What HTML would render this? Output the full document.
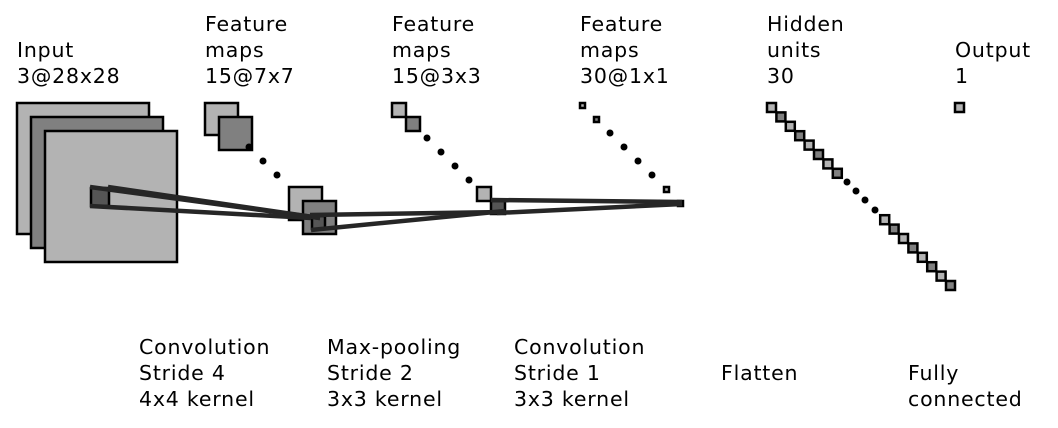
<!DOCTYPE html>
<html><head><meta charset="utf-8"><style>
html,body{margin:0;padding:0;background:#fff;}
svg{display:block;}
text{font-family:"DejaVu Sans","Liberation Sans",sans-serif;font-size:20.5px;letter-spacing:0.8px;fill:#000;}
</style></head><body>
<svg width="1058" height="428" viewBox="0 0 1058 428" xmlns="http://www.w3.org/2000/svg">
<g stroke="#000" stroke-width="2.5">
<rect x="17" y="103" width="132" height="131" fill="#b3b3b3"/>
<rect x="31" y="117" width="132" height="131" fill="#808080"/>
<rect x="45" y="131" width="132" height="131" fill="#b3b3b3"/>
<rect x="91" y="188" width="18" height="18" fill="#555"/>
<rect x="205" y="103" width="33" height="32" fill="#b3b3b3"/>
<rect x="219" y="117" width="33" height="33" fill="#808080"/>
<rect x="289" y="187" width="33" height="33" fill="#b3b3b3"/>
<rect x="303" y="201" width="33" height="33" fill="#808080"/>
<rect x="312" y="216" width="13" height="13" fill="#555"/>
<rect x="392" y="103" width="14" height="14" fill="#b3b3b3"/>
<rect x="406" y="117" width="14" height="14" fill="#808080"/>
<rect x="477" y="187" width="14" height="14" fill="#b3b3b3"/>
<rect x="491" y="201" width="14" height="13" fill="#555"/>
<rect x="580" y="103" width="5" height="5" fill="#b3b3b3"/>
<rect x="594" y="117" width="5" height="5" fill="#808080"/>
<rect x="664" y="187" width="5" height="5" fill="#b3b3b3"/>
<rect x="678" y="201" width="5" height="5" fill="#555"/>
<rect x="955" y="103" width="9" height="9" fill="#b3b3b3"/>
</g>
<g stroke="#000" stroke-width="2.5">
<rect x="767" y="103" width="9" height="9" fill="#b3b3b3"/>
<rect x="776.4" y="112.4" width="9" height="9" fill="#808080"/>
<rect x="785.8" y="121.8" width="9" height="9" fill="#b3b3b3"/>
<rect x="795.2" y="131.2" width="9" height="9" fill="#808080"/>
<rect x="804.6" y="140.6" width="9" height="9" fill="#b3b3b3"/>
<rect x="814" y="150" width="9" height="9" fill="#808080"/>
<rect x="823.4" y="159.4" width="9" height="9" fill="#b3b3b3"/>
<rect x="832.8" y="168.8" width="9" height="9" fill="#808080"/>
<rect x="880.2" y="215.2" width="9" height="9" fill="#b3b3b3"/>
<rect x="889.6" y="224.6" width="9" height="9" fill="#808080"/>
<rect x="899" y="234" width="9" height="9" fill="#b3b3b3"/>
<rect x="908.4" y="243.4" width="9" height="9" fill="#808080"/>
<rect x="917.8" y="252.8" width="9" height="9" fill="#b3b3b3"/>
<rect x="927.2" y="262.2" width="9" height="9" fill="#808080"/>
<rect x="936.6" y="271.6" width="9" height="9" fill="#b3b3b3"/>
<rect x="946" y="281" width="9" height="9" fill="#808080"/>
</g>
<g fill="#000">
<circle cx="249" cy="147" r="3.5"/><circle cx="263" cy="161" r="3.5"/><circle cx="277" cy="175" r="3.5"/>
<circle cx="427" cy="138" r="3.5"/><circle cx="441" cy="152" r="3.5"/><circle cx="455" cy="166" r="3.5"/><circle cx="469" cy="180" r="3.5"/>
<circle cx="610" cy="133" r="3.5"/><circle cx="624" cy="147" r="3.5"/><circle cx="638" cy="161" r="3.5"/><circle cx="652" cy="175" r="3.5"/>
<circle cx="847" cy="182" r="3.5"/><circle cx="856" cy="191" r="3.5"/><circle cx="865" cy="200" r="3.5"/><circle cx="875" cy="210" r="3.5"/>
</g>
<g stroke="#262626" stroke-width="4.5" fill="none">
<line x1="90" y1="187" x2="320" y2="218"/>
<line x1="108" y1="187" x2="320" y2="218"/>
<line x1="90" y1="206" x2="311" y2="218"/>
<line x1="310" y1="215" x2="505" y2="212"/>
<line x1="311" y1="230" x2="505" y2="211"/>
<line x1="491" y1="200" x2="682" y2="202"/>
<line x1="497" y1="213" x2="682" y2="204"/>
</g>
<text x="17" y="57">Input</text><text x="17" y="83">3@28x28</text>
<text x="205" y="31">Feature</text><text x="205" y="57">maps</text><text x="205" y="83">15@7x7</text>
<text x="392" y="31">Feature</text><text x="392" y="57">maps</text><text x="392" y="83">15@3x3</text>
<text x="580" y="31">Feature</text><text x="580" y="57">maps</text><text x="580" y="83">30@1x1</text>
<text x="767" y="31">Hidden</text><text x="767" y="57">units</text><text x="767" y="83">30</text>
<text x="955" y="57">Output</text><text x="955" y="83">1</text>
<text x="139" y="354">Convolution</text><text x="139" y="380">Stride 4</text><text x="139" y="406">4x4 kernel</text>
<text x="327" y="354">Max-pooling</text><text x="327" y="380">Stride 2</text><text x="327" y="406">3x3 kernel</text>
<text x="514" y="354">Convolution</text><text x="514" y="380">Stride 1</text><text x="514" y="406">3x3 kernel</text>
<text x="721" y="380">Flatten</text>
<text x="908" y="380">Fully</text><text x="908" y="406">connected</text>
</svg>
</body></html>
